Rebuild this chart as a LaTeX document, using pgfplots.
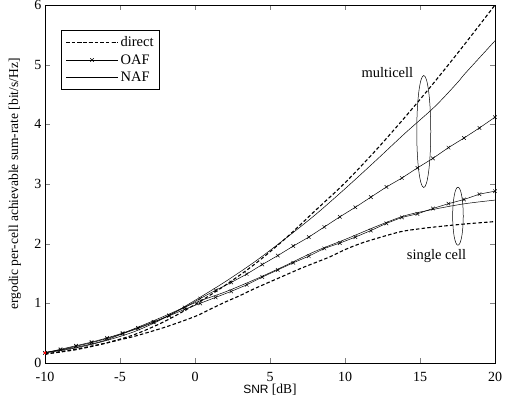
\documentclass[border=0pt]{standalone}
\usepackage{fontspec}
\setmainfont{Liberation Serif}
\setsansfont{Liberation Sans}
\usepackage{pgfplots}
\pgfplotsset{compat=1.18}

% multicell
\pgfplotstableread{
snr rate
-10 0.15
-8 0.22
-6 0.33
-4 0.48
-2 0.70
0 0.98
2 1.30
4 1.66
6 2.08
8 2.55
10 3.02
12 3.55
14 4.12
16 4.72
18 5.35
20 6.00
}\mdirect
\pgfplotstableread{
snr rate
-10 0.17
-8 0.25
-6 0.37
-4 0.53
-2 0.76
0 1.05
2 1.36
4 1.70
6 2.08
8 2.48
10 2.92
12 3.38
14 3.85
16 4.30
17.5 4.70
18 4.85
20 5.40
}\mnaf
\pgfplotstableread{
snr rate
-10 0.17
-8.9655 0.22
-7.9310 0.28
-6.8966 0.34
-5.8621 0.41
-4.8276 0.49
-3.7931 0.58
-2.7586 0.68
-1.7241 0.80
-0.6897 0.93
0.3448 1.08
1.3793 1.22
2.4138 1.35
3.4483 1.49
4.4828 1.65
5.5172 1.80
6.5517 1.96
7.5862 2.11
8.6207 2.28
9.6552 2.45
10.6897 2.61
11.7241 2.78
12.7586 2.95
13.7931 3.10
14.8276 3.27
15.8621 3.43
16.8966 3.61
17.9310 3.77
18.9655 3.94
20 4.12
}\moaf
% single cell
\pgfplotstableread{
snr rate
-10 0.15
-8 0.23
-6 0.33
-5 0.39
-4 0.45
-2 0.60
0 0.78
1 0.90
2 1.02
3 1.13
4 1.25
6 1.47
7 1.58
8 1.68
9 1.78
10 1.90
11 2.00
12 2.08
13.7 2.20
15 2.25
16 2.28
18 2.33
20 2.37
}\sdirect
\pgfplotstableread{
snr rate
-10 0.18
-8 0.26
-6 0.38
-4 0.58
-2 0.79
0 1.01
2 1.19
4 1.40
6 1.63
8 1.87
10 2.07
12 2.28
14 2.47
16 2.58
18 2.67
20 2.73
}\snaf
\pgfplotstableread{
snr rate
-10 0.17
-8.9655 0.23
-7.9310 0.29
-6.8966 0.35
-5.8621 0.42
-4.8276 0.50
-3.7931 0.59
-2.7586 0.69
-1.7241 0.79
-0.6897 0.90
0.3448 1.00
1.3793 1.10
2.4138 1.20
3.4483 1.31
4.4828 1.44
5.5172 1.56
6.5517 1.68
7.5862 1.79
8.6207 1.92
9.6552 2.01
10.6897 2.11
11.7241 2.22
12.7586 2.34
13.7931 2.44
14.8276 2.50
15.8621 2.59
16.8966 2.67
17.9310 2.74
18.9655 2.83
20 2.88
}\soaf

\begin{document}
\begin{tikzpicture}
\begin{axis}[
  name=ax, scale only axis, width=450pt, height=358pt,
  xmin=-10, xmax=20, ymin=0, ymax=6,
  xtick={-10,-5,0,5,10,15,20}, xticklabels={-10,-5,0,5,10,15,20},
  ytick={0,1,2,3,4,5,6}, yticklabels={0,1,2,3,4,5,6},
  tick align=inside, major tick length=5pt,
  axis line style={line width=0.7pt},
  ticklabel style={font=\fontsize{14}{14}\selectfont},
  xticklabel style={anchor=center, yshift=-14pt},
  xlabel={\textsf{\fontsize{12}{12}\selectfont SNR} [dB]},
  xlabel style={at={(axis description cs:0.5,-0.076)}, anchor=center, font=\fontsize{13.5}{13.5}\selectfont},
  ylabel={ergodic per-cell achievable sum-rate [bit/s/Hz]},
  ylabel style={at={(axis description cs:-0.067,0.5)}, anchor=center, font=\fontsize{13.5}{14}\selectfont},
  legend style={at={(axis description cs:0.036,0.93)}, anchor=north west,
    draw=black, line width=0.6pt, font=\fontsize{14.5}{14.5}\selectfont,
    inner xsep=4pt, inner ysep=4pt, row sep=2.5pt},
  legend cell align=left,
  legend image code/.code={\draw[mark repeat=2,mark phase=2,#1] plot coordinates {(0pt,0pt) (26pt,0pt) (52pt,0pt)};},
]
\addplot[black, line width=1.1pt, dash pattern=on 3.5pt off 2.2pt, smooth] table {\mdirect};
\addlegendentry{direct}
\addplot[black, line width=0.5pt, mark=x, mark size=2.5pt] table {\moaf};
\addlegendentry{OAF}
\addplot[black, line width=0.5pt, smooth] table {\mnaf};
\addlegendentry{NAF}
\addplot[black, line width=1.1pt, dash pattern=on 3.5pt off 2.2pt, smooth, forget plot] table {\sdirect};
\addplot[black, line width=0.5pt, mark=x, mark size=2.5pt, forget plot] table {\soaf};
\addplot[black, line width=0.5pt, smooth, forget plot] table {\snaf};
\addplot[red, only marks, mark=triangle*, mark size=1.5pt, mark options={rotate=90}, forget plot] coordinates {(-10,0.17)};
\draw[line width=0.5pt] (axis cs:15.25,3.88) ellipse [x radius=7pt, y radius=56pt];
\draw[line width=0.5pt] (axis cs:17.53,2.46) ellipse [x radius=5.3pt, y radius=29pt];
\node[font=\fontsize{14.5}{14.5}\selectfont] at (axis cs:12.83,4.87) {multicell};
\node[font=\fontsize{14.5}{14.5}\selectfont] at (axis cs:16.1,1.79) {single cell};
\end{axis}
\pgfresetboundingbox
\path[use as bounding box] ([xshift=-45pt,yshift=-40pt]ax.south west) rectangle ([xshift=15pt,yshift=5pt]ax.north east);
\end{tikzpicture}
\end{document}
